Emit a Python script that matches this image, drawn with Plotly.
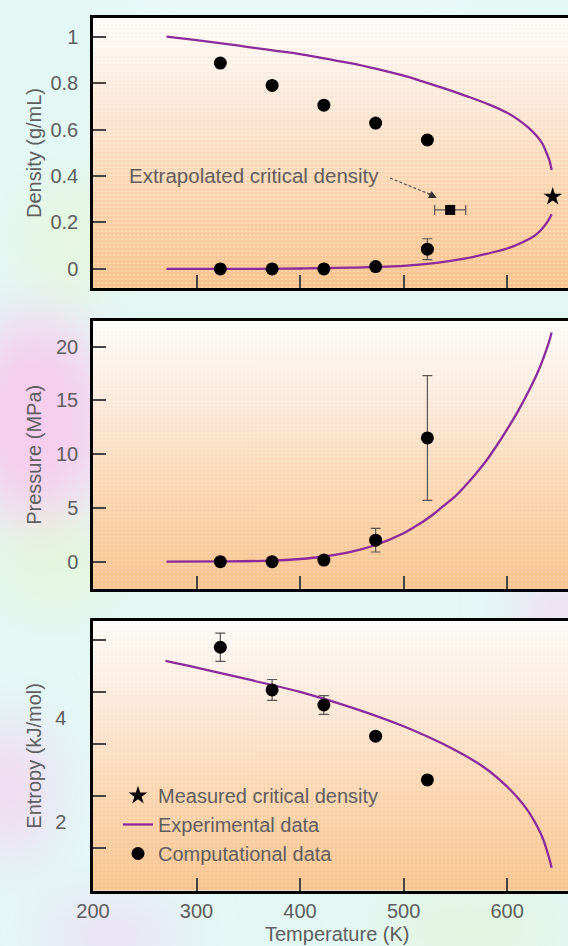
import base64
import plotly.graph_objects as go
from plotly.subplots import make_subplots

# ---------------- data ----------------
comp_T = [323, 373, 423, 473, 523]
liq_density = [0.886, 0.79, 0.705, 0.628, 0.555]
vap_density = [0.0, 0.0, 0.0, 0.01, 0.085]
vap_density_err = [0, 0, 0, 0, 0.045]
extrap_T = [545]
extrap_density = [0.254]
extrap_T_err = [15]
crit_T = [644]
crit_density = [0.311]

exp_liq_T = [271, 300, 326, 350, 375, 400, 423, 450, 475, 500, 519, 540, 560, 584, 600, 610, 620, 628,
             634, 638, 641, 643]
exp_liq_density = [1.0, 0.985, 0.97, 0.955, 0.94, 0.925, 0.906, 0.885, 0.86, 0.832, 0.806, 0.776, 0.745,
                   0.705, 0.672, 0.645, 0.61, 0.575, 0.54, 0.5, 0.465, 0.426]
exp_vap_T = [271, 350, 400, 450, 500, 530, 560, 580, 600, 615, 628, 636, 640, 643]
exp_vap_density = [0.0, 0.0, 0.002, 0.006, 0.013, 0.025, 0.045, 0.065, 0.088, 0.115, 0.148, 0.185,
                   0.21, 0.235]

pressure = [0.0, 0.0, 0.15, 2.0, 11.5]
pressure_err = [0, 0, 0, 1.1, 5.8]
exp_p_T = [271, 323, 373, 400, 423, 450, 473, 500, 510, 520, 530, 540, 550, 560, 570, 580, 590, 600,
           610, 620, 630, 640, 643]
exp_pressure = [0, 0.02, 0.1, 0.25, 0.48, 0.93, 1.55, 2.64, 3.2, 3.8, 4.5, 5.3, 6.1, 7.1, 8.2, 9.4,
                10.8, 12.3, 13.9, 15.7, 17.7, 20.3, 21.3]

entropy = [5.36, 4.54, 4.25, 3.65, 2.81]
entropy_err = [0.27, 0.2, 0.18, 0, 0]
exp_s_T = [270, 300, 350, 400, 450, 500, 550, 580, 600, 610, 620, 625, 630, 635, 638, 641, 643]
exp_entropy = [5.10, 4.97, 4.74, 4.50, 4.20, 3.84, 3.38, 3.02, 2.68, 2.47, 2.22, 2.06, 1.88, 1.66,
               1.48, 1.28, 1.12]

x_ticks = [200, 300, 400, 500, 600]
density_ticks = [0, 0.2, 0.4, 0.6, 0.8, 1]
density_labels = ["0", "0.2", "0.4", "0.6", "0.8", "1"]
pressure_ticks = [0, 5, 10, 15, 20]
entropy_ticks = [2, 4]
entropy_minor = [1.5, 2.5, 3.5, 4.5, 5.5]

# ---------------- style ----------------
W, H = 568, 946
ML, MR, MT, MB = 93, 0, 18, 55
PW, PH = W - ML - MR, H - MT - MB
PURPLE = "#8B2A9B"
TXT = "#5e5e5e"
FONT = "Liberation Sans, Arial, sans-serif"
FS = 20

def px_to_paper_y(py):
    return (H - MB - py) / PH

domains = [
    (px_to_paper_y(288), px_to_paper_y(18)),
    (px_to_paper_y(589), px_to_paper_y(320.7)),
    (px_to_paper_y(890.7), px_to_paper_y(620.7)),
]

fig = make_subplots(rows=3, cols=1)

line_style = dict(color=PURPLE, width=2.3, shape="spline", smoothing=1.0)
dot_style = dict(color="black", size=13, symbol="circle")
err_style = dict(color="#555", thickness=1.2, width=5)

# Panel 1: density
fig.add_trace(go.Scatter(x=exp_liq_T, y=exp_liq_density, mode="lines", line=line_style,
                         name="Experimental data", legendgroup="exp", legendrank=2, showlegend=True), 1, 1)
fig.add_trace(go.Scatter(x=exp_vap_T, y=exp_vap_density, mode="lines", line=line_style,
                         legendgroup="exp", showlegend=False), 1, 1)
fig.add_trace(go.Scatter(x=comp_T, y=liq_density, mode="markers", marker=dot_style,
                         name="Computational data", legendgroup="comp", legendrank=3, showlegend=True), 1, 1)
fig.add_trace(go.Scatter(x=comp_T, y=vap_density, mode="markers", marker=dot_style,
                         error_y=dict(type="data", array=vap_density_err, **err_style),
                         legendgroup="comp", showlegend=False), 1, 1)
fig.add_trace(go.Scatter(x=extrap_T, y=extrap_density, mode="markers",
                         marker=dict(color="black", size=10, symbol="square"),
                         error_x=dict(type="data", array=extrap_T_err, **err_style),
                         legendgroup="comp", showlegend=False), 1, 1)
fig.add_trace(go.Scatter(x=crit_T, y=crit_density, mode="markers",
                         marker=dict(color="black", size=14, symbol="star"),
                         name="Measured critical density", legendgroup="star", legendrank=1,
                         showlegend=True), 1, 1)

# Panel 2: pressure
fig.add_trace(go.Scatter(x=exp_p_T, y=exp_pressure, mode="lines", line=line_style,
                         legendgroup="exp", showlegend=False), 2, 1)
fig.add_trace(go.Scatter(x=comp_T, y=pressure, mode="markers", marker=dot_style,
                         error_y=dict(type="data", array=pressure_err, **err_style),
                         legendgroup="comp", showlegend=False), 2, 1)

# Panel 3: entropy
fig.add_trace(go.Scatter(x=exp_s_T, y=exp_entropy, mode="lines", line=line_style,
                         legendgroup="exp", showlegend=False), 3, 1)
fig.add_trace(go.Scatter(x=comp_T, y=entropy, mode="markers", marker=dot_style,
                         error_y=dict(type="data", array=entropy_err, **err_style),
                         legendgroup="comp", showlegend=False), 3, 1)

# ---------------- axes ----------------
axis_common = dict(showgrid=False, zeroline=False, showline=True, linecolor="black", linewidth=2.5,
                   ticks="inside", ticklen=13, tickwidth=1.5, tickcolor="#444",
                   tickfont=dict(family=FONT, size=FS, color=TXT))
for i in range(1, 4):
    fig.update_xaxes(range=[200, 658.8], tickvals=x_ticks, mirror=True,
                     showticklabels=(i == 3), ticklabelstandoff=1, row=i, col=1, **axis_common)
fig.update_yaxes(range=[-0.082, 1.08], tickvals=density_ticks, ticktext=density_labels,
                 domain=list(domains[0]), ticklabelstandoff=8, row=1, col=1, **axis_common)
fig.update_yaxes(range=[-2.54, 22.4], tickvals=pressure_ticks,
                 domain=list(domains[1]), ticklabelstandoff=8, row=2, col=1, **axis_common)
ax3 = dict(axis_common)
ax3["ticks"] = ""
fig.update_yaxes(range=[0.68, 5.87], tickvals=entropy_ticks,
                 minor=dict(tickvals=entropy_minor, ticks="inside", ticklen=13, tickwidth=1.5, tickcolor="#444"),
                 domain=list(domains[2]), ticklabelstandoff=20, row=3, col=1, **ax3)

# ---------------- annotations ----------------
def ytitle(text, dom):
    return dict(text=text, xref="paper", yref="paper", x=(34 - ML) / PW, y=sum(dom) / 2,
                xanchor="center", yanchor="middle", textangle=-90, showarrow=False,
                font=dict(family=FONT, size=FS, color=TXT))

annotations = [
    ytitle("Density (g/mL)", domains[0]),
    ytitle("Pressure (MPa)", domains[1]),
    ytitle("Entropy (kJ/mol)", domains[2]),
    dict(text="Temperature (K)", xref="paper", yref="paper", x=(337 - ML) / PW, y=px_to_paper_y(934),
         showarrow=False, font=dict(family=FONT, size=FS, color=TXT), xanchor="center", yanchor="middle"),
    dict(text="Extrapolated critical density", xref="x", yref="y", x=233, y=0.404, xanchor="left",
         yanchor="middle", showarrow=False, font=dict(family=FONT, size=20.5, color=TXT)),
    dict(text="", xref="x", yref="y", x=532, y=0.305, ax=-10, ay=-5, showarrow=True,
         arrowhead=2, arrowsize=1.3, arrowwidth=1.2, arrowcolor="#333", standoff=0),
]
shapes = [
    dict(type="line", xref="x", yref="y", x0=487, y0=0.391, x1=528, y1=0.317,
         line=dict(color="#555", width=1.2, dash="3px,2px")),
]

# ---------------- backgrounds ----------------
def panel_svg(w=475, h=270):
    s = f'''<svg xmlns="http://www.w3.org/2000/svg" width="{w}" height="{h}" viewBox="0 0 {w} {h}" preserveAspectRatio="none">
<defs><linearGradient id="g" x1="0" y1="0" x2="0" y2="1">
<stop offset="0" stop-color="#FFFEFB"/><stop offset="0.3" stop-color="#FDEBDB"/>
<stop offset="0.65" stop-color="#FCD6AE"/><stop offset="1" stop-color="#F9C48C"/></linearGradient>
<pattern id="d" width="4" height="4" patternUnits="userSpaceOnUse">
<rect x="0.5" y="0.5" width="1.3" height="1.3" fill="#ffffff" opacity="0.5"/>
<rect x="2.5" y="2.5" width="1.1" height="1.1" fill="#f09ab0" opacity="0.3"/></pattern></defs>
<rect width="{w}" height="{h}" fill="url(#g)"/><rect width="{w}" height="{h}" fill="url(#d)"/></svg>'''
    return "data:image/svg+xml;base64," + base64.b64encode(s.encode()).decode()

def page_svg(w=W, h=H):
    s = f'''<svg xmlns="http://www.w3.org/2000/svg" width="{w}" height="{h}" viewBox="0 0 {w} {h}">
<defs><filter id="b" x="-50%" y="-50%" width="200%" height="200%"><feGaussianBlur stdDeviation="28"/></filter></defs>
<rect width="{w}" height="{h}" fill="#E3F7F5"/>
<g filter="url(#b)">
<ellipse cx="35" cy="420" rx="75" ry="105" fill="#F6CDEE"/>
<ellipse cx="70" cy="240" rx="45" ry="60" fill="#E6F6DC"/>
<ellipse cx="55" cy="560" rx="60" ry="45" fill="#E4F7DA"/>
<ellipse cx="10" cy="790" rx="40" ry="70" fill="#F2D8F0"/>
<ellipse cx="560" cy="610" rx="40" ry="30" fill="#F6D2EE"/>
<ellipse cx="110" cy="935" rx="70" ry="30" fill="#EEDDF5"/>
<ellipse cx="470" cy="930" rx="90" ry="30" fill="#E3F5DA"/>
<ellipse cx="300" cy="5" rx="200" ry="20" fill="#EEFBFB"/>
</g></svg>'''
    return "data:image/svg+xml;base64," + base64.b64encode(s.encode()).decode()

images = [dict(source=page_svg(), xref="paper", yref="paper", x=-ML / PW, y=1 + MT / PH,
               sizex=W / PW, sizey=H / PH, xanchor="left", yanchor="top", sizing="stretch", layer="below")]
for d0, d1 in domains:
    images.append(dict(source=panel_svg(), xref="paper", yref="paper", x=0, y=d1, sizex=1, sizey=d1 - d0,
                       xanchor="left", yanchor="top", sizing="stretch", layer="below"))

fig.update_layout(
    width=W, height=H, margin=dict(l=ML, r=MR, t=MT, b=MB),
    paper_bgcolor="#E3F7F5", plot_bgcolor="rgba(0,0,0,0)",
    font=dict(family=FONT, size=FS, color=TXT),
    annotations=annotations, shapes=shapes, images=images,
    legend=dict(x=(118 - ML) / PW, y=px_to_paper_y(776), xanchor="left", yanchor="top",
                bgcolor="rgba(0,0,0,0)", font=dict(family=FONT, size=FS, color=TXT),
                tracegroupgap=0, itemwidth=30),
)

fig.write_html("out.html", config={"displayModeBar": False},
               post_script="document.body.style.margin='0';document.body.style.overflow='hidden';")
